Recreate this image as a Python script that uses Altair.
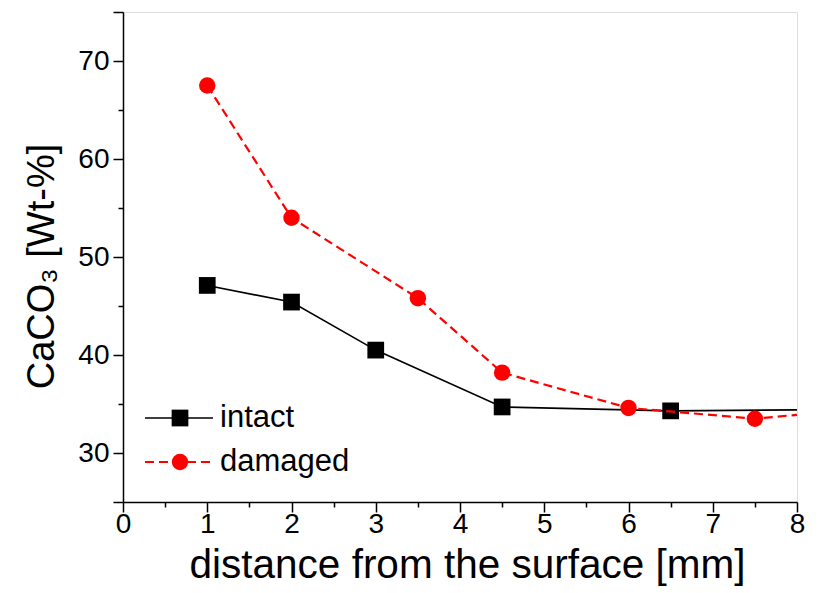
import altair as alt
import pandas as pd

series = ["intact", "damaged"]
colors = ["#000000", "#ff0000"]
shapes = ["square", "circle"]

intact_x = [1, 2, 3, 4.5, 6.5, 8]
intact_y = [47.1, 45.4, 40.5, 34.7, 34.3, 34.4]
intact_marker = [True, True, True, True, True, False]

damaged_x = [1, 2, 3.5, 4.5, 6, 7.5, 8]
damaged_y = [67.5, 54.0, 45.8, 38.2, 34.6, 33.5, 33.9]
damaged_marker = [True, True, True, True, True, True, False]

x_ticks = [i * 0.5 for i in range(17)]
y_ticks = [25 + i * 2.5 for i in range(21)]

FONT = "Liberation Sans"

df_i = pd.DataFrame({"x": intact_x, "y": intact_y, "marker": intact_marker, "series": series[0]})
df_d = pd.DataFrame({"x": damaged_x, "y": damaged_y, "marker": damaged_marker, "series": series[1]})

x_enc = alt.X(
    "x:Q",
    scale=alt.Scale(domain=[0, 8], nice=False, zero=False),
    axis=alt.Axis(
        values=x_ticks,
        format="~g",
        labelExpr="datum.value % 1 === 0 ? datum.label : ''",
        tickSize={"condition": {"test": "datum.value % 1 === 0", "value": 10}, "value": 5},
        title="distance from the surface [mm]",
        titleFontSize=40.5,
        titleFont=FONT,
        titleFontWeight="normal",
        titleColor="#000000",
        titlePadding=7,
        titleX=344,
        labelFont=FONT,
        labelFontSize=28,
        labelColor="#000000",
        labelPadding=-2,
        labelFlush=False,
        grid=False,
        domainColor="#000000",
        domainWidth=1.5,
        tickColor="#000000",
        tickWidth=1.5,
    ),
)

y_enc = alt.Y(
    "y:Q",
    scale=alt.Scale(domain=[25, 75], nice=False, zero=False),
    axis=alt.Axis(
        values=y_ticks,
        format="~g",
        labelExpr="datum.value % 10 === 0 ? datum.label : ''",
        tickSize={"condition": {"test": "datum.value % 10 === 0 || datum.value === 25 || datum.value === 75", "value": 10}, "value": 5},
        title="CaCO₃ [Wt-%]",
        titleFontSize=38,
        titleFont=FONT,
        titleFontWeight="normal",
        titleColor="#000000",
        titlePadding=16,
        titleY=254,
        labelFont=FONT,
        labelFontSize=28,
        labelColor="#000000",
        labelPadding=4,
        labelFlush=False,
        grid=False,
        domainColor="#000000",
        domainWidth=1.5,
        tickColor="#000000",
        tickWidth=1.5,
    ),
)

line_i = alt.Chart(df_i).mark_line(color=colors[0], strokeWidth=1.6, clip=True).encode(x=x_enc, y=y_enc)
pts_i = alt.Chart(df_i).transform_filter("datum.marker").mark_point(
    shape=shapes[0], filled=True, size=280, color=colors[0], opacity=1
).encode(x="x:Q", y="y:Q")
line_d = alt.Chart(df_d).mark_line(color=colors[1], strokeWidth=2.2, strokeDash=[9, 5], clip=True).encode(x="x:Q", y="y:Q")
pts_d = alt.Chart(df_d).transform_filter("datum.marker").mark_point(
    shape=shapes[1], filled=True, size=270, color=colors[1], opacity=1
).encode(x="x:Q", y="y:Q")

# manual legend (line + marker + label), placed inside the plot area
legend_layers = []
leg_y = [406, 450]
for i, s in enumerate(series):
    ldf = pd.DataFrame({"label": [s]})
    dash = [] if i == 0 else [9, 5]
    rule_kwargs = dict(color=colors[i], strokeWidth=1.6 if i == 0 else 2.2)
    if dash:
        rule_kwargs["strokeDash"] = dash
    legend_layers.append(
        alt.Chart(ldf).mark_rule(**rule_kwargs).encode(
            x=alt.value(22), x2=alt.value(90), y=alt.value(leg_y[i])
        )
    )
    legend_layers.append(
        alt.Chart(ldf).mark_point(shape=shapes[i], filled=True, size=280 if i == 0 else 270, color=colors[i], opacity=1).encode(
            x=alt.value(57), y=alt.value(leg_y[i])
        )
    )
    legend_layers.append(
        alt.Chart(ldf).mark_text(align="left", baseline="middle", font=FONT, fontSize=31, color="#000000").encode(
            x=alt.value(97), y=alt.value(leg_y[i]), text="label:N"
        )
    )

chart = alt.layer(line_i, pts_i, line_d, pts_d, *legend_layers).properties(
    width=674,
    height=490,
    autosize=alt.AutoSizeParams(type="none"),
    padding={"left": 115, "top": 4, "right": 12, "bottom": 90},
).configure_view(stroke=None).configure(background="#ffffff")

chart.save("out.html", embed_options={"renderer": "svg", "actions": False})
